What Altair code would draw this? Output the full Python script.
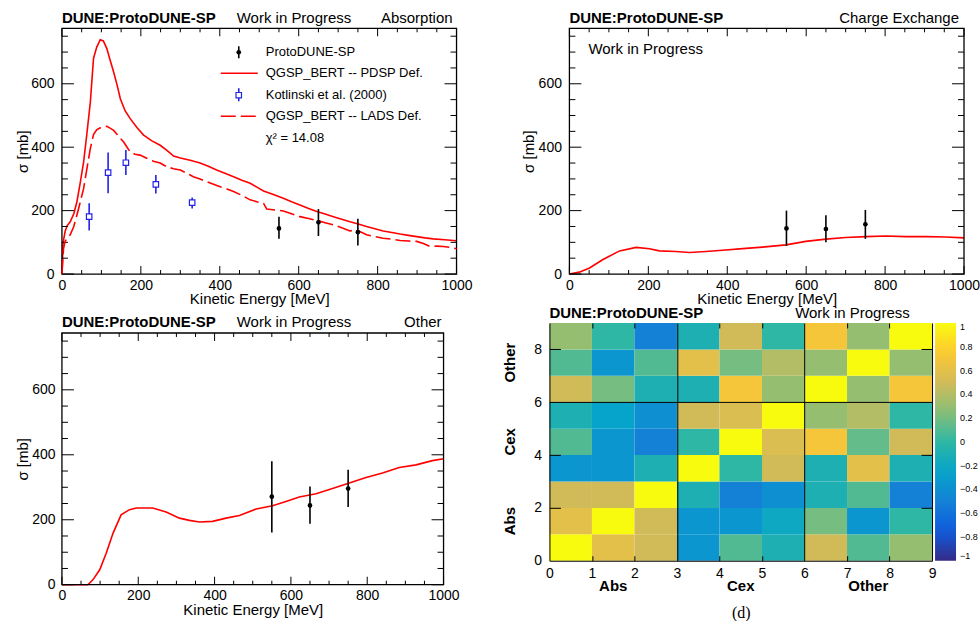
import altair as alt
import pandas as pd

# ---------------- data ----------------
# Absorption: QGSP_BERT -- PDSP Def. (solid)
abs_pdsp_E = [0, 3, 8, 13, 21, 30, 38, 46, 55, 63, 72, 80, 88, 97, 105, 114, 122, 131, 140, 148,
              160, 173, 190, 207, 228, 249, 266, 283, 300, 325, 350, 371, 392, 413, 435, 456, 477,
              494, 511, 536, 561, 582, 603, 625, 646, 667, 688, 709, 730, 751, 772, 793, 814, 836,
              857, 878, 899, 920, 941, 970, 1000]
abs_pdsp_xs = [0, 100, 134, 152, 165, 190, 228, 285, 354, 440, 542, 680, 715, 739, 735, 710, 675, 637,
               595, 553, 515, 490, 462, 438, 420, 406, 390, 372, 366, 359, 350, 340, 328, 318, 307,
               296, 286, 274, 262, 251, 239, 228, 218, 207, 197, 189, 181, 173, 165, 158, 150, 143,
               136, 131, 126, 122, 118, 114, 111, 108, 105]
# Absorption: QGSP_BERT -- LADS Def. (dashed)
abs_lads_E = [0, 4, 8, 13, 21, 30, 38, 46, 55, 63, 72, 80, 88, 97, 105, 114, 122, 131, 140, 148, 156,
              165, 173, 185, 198, 215, 232, 249, 266, 283, 300, 316, 333, 350, 367, 384, 401, 418,
              435, 456, 477, 494, 511, 519, 540, 561, 582, 603, 625, 646, 667, 688, 709, 730, 742,
              755, 772, 793, 814, 836, 857, 878, 899, 916, 933, 950, 966, 983, 1000]
abs_lads_xs = [0, 80, 103, 112, 124, 150, 186, 225, 270, 330, 396, 440, 455, 461, 463, 466, 460, 453,
               440, 428, 417, 400, 385, 378, 375, 365, 356, 350, 338, 332, 328, 318, 307, 300, 291,
               283, 275, 268, 260, 248, 234, 228, 223, 205, 202, 199, 190, 181, 175, 169, 162, 155,
               146, 136, 138, 134, 124, 118, 113, 110, 106, 104, 103, 96, 87, 88, 87, 84, 80]
# Kotlinski et al. (2000)
kot_E = [69, 117, 162, 238, 330]
kot_xs = [181, 320, 351, 283, 225]
kot_lo = [137, 255, 312, 254, 207]
kot_hi = [223, 383, 391, 312, 241]
# ProtoDUNE-SP measurements
meas_E = [550, 650, 750]
abs_xs = [144, 163, 132]
abs_lo = [111, 120, 90]
abs_hi = [181, 205, 174]
cex_xs = [144, 142, 157]
cex_lo = [89, 100, 111]
cex_hi = [200, 185, 202]
oth_xs = [271, 244, 296]
oth_lo = [161, 188, 239]
oth_hi = [380, 302, 354]
# Charge exchange prediction
cex_E = [0, 25, 51, 84, 127, 169, 203, 228, 270, 304, 346, 388, 439, 489, 549, 599, 650, 700, 751,
         802, 852, 903, 954, 1000]
cex_curve = [0, 6, 19, 45, 73, 84, 80, 73, 71, 68, 71, 75, 80, 85, 92, 103, 110, 115, 118, 120, 118,
             118, 117, 114]
# Other prediction
oth_E = [0, 68, 81, 99, 116, 134, 155, 177, 195, 238, 273, 308, 334, 360, 395, 430, 465, 509, 552,
         587, 622, 666, 709, 753, 797, 840, 884, 928, 971, 1000]
oth_curve = [0, 0, 15, 46, 97, 159, 215, 231, 236, 236, 224, 205, 198, 193, 195, 205, 213, 233, 243,
             256, 270, 280, 296, 313, 330, 344, 361, 369, 382, 388]
# Correlation matrix (rows: y bin 0..8 from bottom, columns: x bin 0..8)
corr_groups = ["Abs", "Cex", "Other"]
corr_centres = [1.5, 4.5, 7.5]
corr = [
    [1.0, 0.6, 0.5, -0.35, 0.1, -0.1, 0.5, 0.1, 0.3],
    [0.6, 1.0, 0.5, -0.35, -0.35, -0.2, 0.2, -0.35, 0.0],
    [0.5, 0.5, 1.0, -0.1, -0.5, -0.4, -0.1, 0.1, -0.5],
    [-0.35, -0.35, -0.1, 1.0, 0.0, 0.5, -0.1, 0.6, -0.1],
    [0.1, -0.35, -0.5, 0.0, 1.0, 0.55, 0.7, 0.15, 0.5],
    [-0.1, -0.25, -0.4, 0.5, 0.55, 1.0, 0.3, 0.4, 0.0],
    [0.5, 0.2, -0.1, -0.1, 0.7, 0.3, 1.0, 0.3, 0.7],
    [0.1, -0.35, 0.1, 0.6, 0.2, 0.4, 0.3, 1.0, 0.3],
    [0.3, 0.0, -0.5, -0.1, 0.5, 0.0, 0.7, 0.3, 1.0],
]
colorbar_ticks = [-1, -0.8, -0.6, -0.4, -0.2, 0, 0.2, 0.4, 0.6, 0.8, 1]
# axis tick positions
x_major = [0, 200, 400, 600, 800, 1000]
x_minor = [50, 100, 150, 250, 300, 350, 450, 500, 550, 650, 700, 750, 850, 900, 950]
y_major = [0, 200, 400, 600]
y_minor = [50, 100, 150, 250, 300, 350, 450, 500, 550, 650, 700, 750]
y_labels = [0, 200, 400, 600]

# ---------------- styling ----------------
FONT = "Liberation Sans"
SERIF = "Liberation Serif"
RED = "#ff0000"
BLUE = "#2323e6"
BIRD = ["#352a87", "#0f5cdd", "#1481d6", "#06a4ca", "#2eb7a4", "#87bf77", "#d1bb59", "#fec832", "#f9fb0e"]
YMAX = 775

one = pd.DataFrame({"k": [0]})


def txt(s, x, y, size=15, weight="normal", align="left", baseline="alphabetic", font=FONT, angle=0):
    return alt.Chart(one).mark_text(text=s, align=align, baseline=baseline, fontSize=size,
                                    fontWeight=weight, font=font, color="black", angle=angle
                                    ).encode(x=alt.value(x), y=alt.value(y))


def seg(x1, y1, x2, y2, color, width, dash=None):
    kw = dict(color=color, strokeWidth=width)
    if dash:
        kw["strokeDash"] = dash
    return alt.Chart(one).mark_rule(**kw).encode(x=alt.value(x1), x2=alt.value(x2),
                                                 y=alt.value(y1), y2=alt.value(y2))


def frame(W, H):
    return alt.Chart(one).mark_rect(fill=None, stroke="black", strokeWidth=1.3).encode(
        x=alt.value(0), x2=alt.value(W), y=alt.value(0), y2=alt.value(H))


def xsc():
    return alt.Scale(domain=[0, 1000], nice=False, zero=False)


def ysc():
    return alt.Scale(domain=[0, YMAX], nice=False, zero=False)


def ticks(W, H, xmaj=8, xmin=4, ymaj=12, ymin=6):
    layers = []
    for vals, L in ((x_major, xmaj), (x_minor, xmin)):
        df = pd.DataFrame({"v": vals})
        for y0, y1 in ((H, H - L), (0, L)):
            layers.append(alt.Chart(df).mark_rule(color="black", strokeWidth=1).encode(
                x=alt.X("v:Q", scale=xsc()), y=alt.value(y0), y2=alt.value(y1)))
    for vals, L in ((y_major, ymaj), (y_minor, ymin)):
        df = pd.DataFrame({"v": vals})
        for x0, x1 in ((0, L), (W, W - L)):
            layers.append(alt.Chart(df).mark_rule(color="black", strokeWidth=1).encode(
                y=alt.Y("v:Q", scale=ysc()), x=alt.value(x0), x2=alt.value(x1)))
    return layers


def line_axes(W, H, ytitle_x, xtitle_y, xlab_pad, ylab_pad):
    xa = alt.Axis(
        values=x_major, title="Kinetic Energy [MeV]", format="d",
        labelOverlap=False, labelFont=FONT, labelFontSize=14, labelPadding=xlab_pad, labelColor="black",
        labelFlush=False, ticks=False, domain=False, grid=False,
        titleFont=FONT, titleFontSize=15, titleFontWeight="normal", titleColor="black",
        titleX=W / 2, titleY=xtitle_y, titleBaseline="middle", titleAlign="center",
    )
    ya = alt.Axis(
        values=y_labels, title="σ [mb]", format="d",
        labelOverlap=False, labelFont=FONT, labelFontSize=14, labelPadding=ylab_pad, labelColor="black",
        labelFlush=False, ticks=False, domain=False, grid=False,
        titleFont=FONT, titleFontSize=15, titleFontWeight="normal", titleColor="black",
        titleX=ytitle_x, titleY=H / 2,
    )
    return xa, ya


def curve(E, xs, xa=None, ya=None, dash=None):
    kw = dict(color=RED, strokeWidth=1.6)
    if dash:
        kw["strokeDash"] = dash
    df = pd.DataFrame({"E": E, "xs": xs})
    xenc = alt.X("E:Q", scale=xsc(), axis=xa) if xa is not None else alt.X("E:Q", scale=xsc())
    yenc = alt.Y("xs:Q", scale=ysc(), axis=ya) if ya is not None else alt.Y("xs:Q", scale=ysc())
    return alt.Chart(df).mark_line(**kw).encode(x=xenc, y=yenc)


def measurement(E, xs, lo, hi, color="black", square=False):
    df = pd.DataFrame({"E": E, "xs": xs, "lo": lo, "hi": hi})
    bars = alt.Chart(df).mark_rule(color=color, strokeWidth=1.6).encode(
        x=alt.X("E:Q", scale=xsc()), y=alt.Y("lo:Q", scale=ysc()), y2="hi:Q")
    if square:
        pts = alt.Chart(df).mark_point(shape="square", filled=True, fill="white", stroke=color,
                                       strokeWidth=1.2, size=30, opacity=1).encode(
            x=alt.X("E:Q", scale=xsc()), y=alt.Y("xs:Q", scale=ysc()))
    else:
        pts = alt.Chart(df).mark_point(shape="circle", filled=True, color=color, size=22, opacity=1).encode(
            x=alt.X("E:Q", scale=xsc()), y=alt.Y("xs:Q", scale=ysc()))
    return bars + pts


# ---------------- panel A: absorption ----------------
WA, HA = 395, 246
xa, ya = line_axes(WA, HA, -31, 24, 4, 8)
panelA = alt.layer(
    curve(abs_pdsp_E, abs_pdsp_xs, xa, ya),
    *ticks(WA, HA),
    frame(WA, HA),
    curve(abs_lads_E, abs_lads_xs, dash=[15, 5]),
    measurement(kot_E, kot_xs, kot_lo, kot_hi, color=BLUE, square=True),
    measurement(meas_E, abs_xs, abs_lo, abs_hi),
    txt("DUNE:ProtoDUNE-SP", 0, -5.5, weight="bold"),
    txt("Work in Progress", 175, -5.5),
    txt("Absorption", 391, -5.5, align="right"),
    # legend
    seg(177, 18, 177, 30, "black", 1.6),
    alt.Chart(one).mark_point(shape="circle", filled=True, color="black", size=22, opacity=1).encode(
        x=alt.value(177), y=alt.value(24)),
    txt("ProtoDUNE-SP", 204, 24, size=13, baseline="middle"),
    seg(159, 45, 196, 45, RED, 1.6),
    txt("QGSP_BERT -- PDSP Def.", 204, 45, size=13, baseline="middle"),
    seg(177, 60, 177, 73, BLUE, 1.6),
    alt.Chart(one).mark_point(shape="square", filled=True, fill="white", stroke=BLUE, strokeWidth=1.2,
                              size=30, opacity=1).encode(x=alt.value(177), y=alt.value(67)),
    txt("Kotlinski et al. (2000)", 204, 67, size=13, baseline="middle"),
    seg(159, 88, 196, 88, RED, 1.6, dash=[15, 5]),
    txt("QGSP_BERT -- LADS Def.", 204, 88, size=13, baseline="middle"),
    txt("χ² = 14.08", 204, 110, size=13, baseline="middle"),
).properties(width=WA, height=HA)

# ---------------- panel B: charge exchange ----------------
xb, yb = line_axes(WA, HA, -33, 24, 4, 8)
panelB = alt.layer(
    curve(cex_E, cex_curve, xb, yb),
    *ticks(WA, HA),
    frame(WA, HA),
    measurement(meas_E, cex_xs, cex_lo, cex_hi),
    txt("DUNE:ProtoDUNE-SP", 0, -5.5, weight="bold"),
    txt("Charge Exchange", 390, -5.5, align="right"),
    txt("Work in Progress", 19, 25.5),
).properties(width=WA, height=HA)

# ---------------- panel C: other (title strip + plot) ----------------
WC, HC = 382, 252
HEAD_C = 26
xc, yc = line_axes(WC, HC, -31, 25, 4, 7)
titleC = alt.layer(
    txt("DUNE:ProtoDUNE-SP", 0, 21, weight="bold"),
    txt("Work in Progress", 175, 21),
    txt("Other", 380, 21, align="right"),
).properties(width=WC, height=HEAD_C)
panelC = alt.layer(
    curve(oth_E, oth_curve, xc, yc),
    *ticks(WC, HC),
    frame(WC, HC),
    measurement(meas_E, oth_xs, oth_lo, oth_hi),
).properties(width=WC, height=HC)

# ---------------- panel D: correlation matrix (title strip + plot) ----------------
WD, HD = 383, 238
HEAD_D = 17
cells = pd.DataFrame([
    {"x0": i, "x1": i + 1, "y0": j, "y1": j + 1, "v": corr[j][i]}
    for j in range(9) for i in range(9)
])
groups = pd.DataFrame({"name": corr_groups, "c": corr_centres})
edge = "datum.value === 0 || datum.value === 3 || datum.value === 6 || datum.value === 9"
hxa = alt.Axis(values=list(range(10)), title=None, labelFont=FONT, labelFontSize=14, labelPadding=6,
               labelColor="black", labelFlush=False, labelOverlap=False, ticks=False, domain=False,
               grid=True, gridColor="black", gridOpacity=1, gridWidth=1, zindex=1,
               gridDash={"condition": {"test": edge, "value": [HD + 20, 0]}, "value": [5, HD - 10]})
hya = alt.Axis(values=list(range(10)), title=None, labelFont=FONT, labelFontSize=14, labelPadding=8,
               labelColor="black", labelFlush=False, labelOverlap=False, ticks=False, domain=False,
               grid=True, gridColor="black", gridOpacity=1, gridWidth=1, zindex=1,
               gridDash={"condition": {"test": edge, "value": [WD + 20, 0]}, "value": [11, WD - 22]})


def hsx():
    return alt.Scale(domain=[0, 9], nice=False, zero=False)


def hsy():
    return alt.Scale(domain=[0, 9], nice=False, zero=False)


heat = alt.Chart(cells).mark_rect(strokeWidth=0).encode(
    x=alt.X("x0:Q", scale=hsx(), axis=hxa), x2="x1:Q",
    y=alt.Y("y0:Q", scale=hsy(), axis=hya), y2="y1:Q",
    color=alt.Color("v:Q", scale=alt.Scale(domain=[-1, 1], range=BIRD, interpolate="rgb"),
                    legend=alt.Legend(orient="right", offset=3, title=None, gradientLength=HD,
                                      gradientThickness=21, gradientStrokeWidth=0, values=colorbar_ticks,
                                      format=".1~f", labelFont=FONT, labelFontSize=9, labelOffset=4,
                                      labelColor="black", labelOverlap=False, padding=0)),
)
gx = alt.Chart(groups).mark_text(font=FONT, fontSize=15, fontWeight="bold", baseline="middle",
                                 color="black").encode(
    x=alt.X("c:Q", scale=hsx()), y=alt.value(HD + 25), text="name:N")
gy = alt.Chart(groups).mark_text(font=FONT, fontSize=15, fontWeight="bold", baseline="middle",
                                 color="black", angle=270).encode(
    x=alt.value(-39), y=alt.Y("c:Q", scale=hsy()), text="name:N")
titleD = alt.layer(
    txt("DUNE:ProtoDUNE-SP", 0, 12.5, weight="bold"),
    txt("Work in Progress", 246, 12.5),
).properties(width=WD, height=HEAD_D)
panelD = alt.layer(
    heat, gx, gy,
    txt("(d)", 192, 295, size=16, align="center", font=SERIF),
).properties(width=WD, height=HD)

# ---------------- layout ----------------
row1 = alt.hconcat(panelA, panelB, spacing=49)
leftC = alt.vconcat(titleC, panelC, spacing=0)
rightD = alt.vconcat(titleD, panelD, spacing=0).resolve_legend(color="independent")
row2 = alt.hconcat(leftC, rightD, spacing=44).resolve_legend(color="independent")
chart = alt.vconcat(row1, row2, spacing=0).resolve_legend(color="independent").properties(
    padding={"left": 16, "top": 10, "right": 0, "bottom": 0},
    background="white",
).configure(font=FONT).configure_view(stroke=None)

chart.save("out.html", embed_options={"renderer": "svg", "actions": False})
